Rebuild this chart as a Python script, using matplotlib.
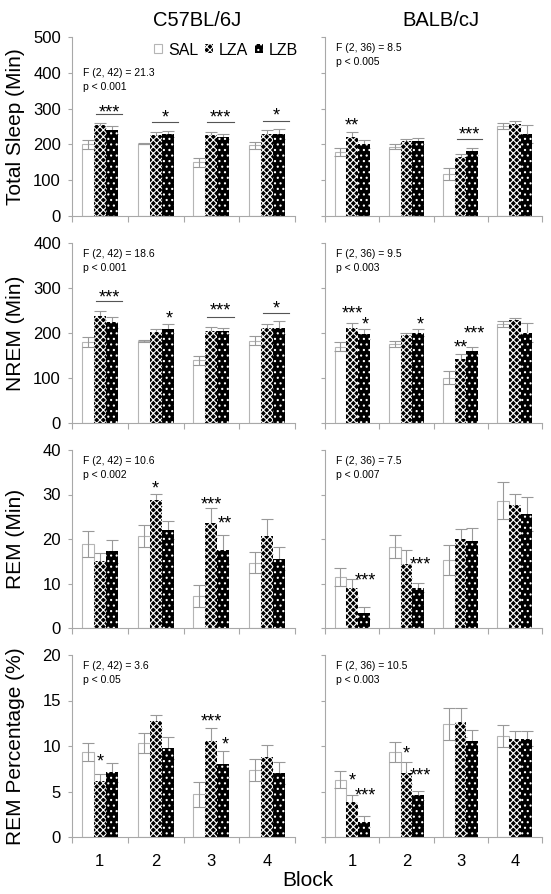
import matplotlib.pyplot as plt
from matplotlib.patches import Patch

plt.rcParams['font.family'] = ['Liberation Sans', 'DejaVu Sans']
plt.rcParams['hatch.linewidth'] = 0.8

# ---- data ----
blocks = [1, 2, 3, 4]
groups = ['SAL', 'LZA', 'LZB']

# each panel: [SAL, LZA, LZB] x 4 blocks
c57_total = [[200, 202, 150, 198], [253, 227, 226, 230], [240, 229, 221, 228]]
c57_total_err = [[12, 2, 12, 10], [8, 8, 10, 10], [12, 8, 7, 14]]
balb_total = [[179, 193, 117, 251], [221, 210, 164, 256], [201, 210, 181, 228]]
balb_total_err = [[12, 7, 16, 9], [14, 5, 10, 8], [12, 8, 10, 25]]

c57_nrem = [[181, 182, 139, 183], [238, 202, 204, 211], [224, 210, 204, 212]]
c57_nrem_err = [[11, 2, 10, 10], [10, 8, 10, 8], [12, 10, 7, 14]]
balb_nrem = [[170, 175, 101, 220], [211, 195, 143, 228], [198, 201, 161, 201]]
balb_nrem_err = [[10, 7, 15, 7], [12, 5, 10, 6], [12, 8, 8, 22]]

c57_rem = [[18.9, 20.6, 7.2, 14.7], [15.0, 28.8, 23.6, 20.6], [17.2, 22.1, 17.6, 15.6]]
c57_rem_err = [[2.9, 2.5, 2.5, 2.4], [1.9, 1.3, 3.4, 3.9], [2.6, 2.0, 3.2, 2.5]]
balb_rem = [[11.5, 18.3, 15.3, 28.6], [9.0, 14.4, 20.0, 27.6], [3.4, 9.1, 19.6, 25.6]]
balb_rem_err = [[2.0, 2.6, 3.4, 4.2], [2.0, 3.1, 2.2, 2.5], [1.3, 1.0, 2.9, 3.9]]

c57_pct = [[9.3, 10.3, 4.7, 7.4], [6.1, 12.7, 10.5, 8.8], [7.1, 9.8, 8.0, 7.0]]
c57_pct_err = [[1.0, 1.1, 1.35, 1.2], [0.85, 0.75, 1.5, 1.3], [1.05, 1.2, 1.4, 1.2]]
balb_pct = [[6.3, 9.3, 12.4, 11.1], [3.9, 7.0, 12.6, 10.8], [1.7, 4.6, 10.6, 10.8]]
balb_pct_err = [[0.9, 1.1, 1.75, 1.2], [0.75, 1.2, 1.6, 0.8], [0.6, 0.5, 1.2, 0.8]]

# significance marks: (block, over, stars, star y, line y)
c57_total_sig = [(1, 'both', '***', 305, 286), (2, 'both', '*', 291, 263),
                 (3, 'both', '***', 291, 263), (4, 'both', '*', 297, 265)]
balb_total_sig = [(1, 'LZA', '**', 268, None), (3, 'both', '***', 244, 214)]
c57_nrem_sig = [(1, 'both', '***', 291, 271), (2, 'LZB', '*', 244, None),
                (3, 'both', '***', 262, 236), (4, 'both', '*', 266, 244)]
balb_nrem_sig = [(1, 'LZA', '***', 255, None), (1, 'LZB', '*', 232, None),
                 (2, 'LZB', '*', 232, None), (3, 'LZA', '**', 179, None),
                 (3, 'LZB', '***', 211, None)]
c57_rem_sig = [(2, 'LZA', '*', 32.6, None), (3, 'LZA', '***', 29.0, None),
               (3, 'LZB', '**', 24.7, None)]
balb_rem_sig = [(1, 'LZB', '***', 11.8, None), (2, 'LZB', '***', 15.5, None)]
c57_pct_sig = [(1, 'LZA', '*', 8.9, None), (3, 'LZA', '***', 13.3, None),
               (3, 'LZB', '*', 10.8, None)]
balb_pct_sig = [(1, 'LZA', '*', 6.8, None), (1, 'LZB', '***', 5.2, None),
                (2, 'LZA', '*', 9.8, None), (2, 'LZB', '***', 7.4, None)]

c57_stats = [('F (2, 42) = 21.3', 'p < 0.001'), ('F (2, 42) = 18.6', 'p < 0.001'),
             ('F (2, 42) = 10.6', 'p < 0.002'), ('F (2, 42) = 3.6', 'p < 0.05')]
balb_stats = [('F (2, 36) = 8.5', 'p < 0.005'), ('F (2, 36) = 9.5', 'p < 0.003'),
              ('F (2, 36) = 7.5', 'p < 0.007'), ('F (2, 36) = 10.5', 'p < 0.003')]

ylabels = ['Total Sleep (Min)', 'NREM (Min)', 'REM (Min)', 'REM Percentage (%)']
ylims = [(500, 100), (400, 100), (40, 10), (20, 5)]
strains = ['C57BL/6J', 'BALB/cJ']

panels = [
    [(c57_total, c57_total_err, c57_total_sig), (balb_total, balb_total_err, balb_total_sig)],
    [(c57_nrem, c57_nrem_err, c57_nrem_sig), (balb_nrem, balb_nrem_err, balb_nrem_sig)],
    [(c57_rem, c57_rem_err, c57_rem_sig), (balb_rem, balb_rem_err, balb_rem_sig)],
    [(c57_pct, c57_pct_err, c57_pct_sig), (balb_pct, balb_pct_err, balb_pct_sig)],
]

# ---- style ----
W, H = 551, 894
rows_px = [(37, 216), (243, 423), (450, 628), (655, 837)]
cols_px = [(72, 295), (325, 542)]
grey = '#a8a8a8'
bw = 0.215
offsets = {'SAL': -bw, 'LZA': 0.0, 'LZB': bw}
bar_style = {
    'SAL': dict(facecolor='white', edgecolor='#b5b5b5', linewidth=0.8),
    'LZA': dict(facecolor='black', edgecolor='white', linewidth=0, hatch='xxxxx'),
    'LZB': dict(facecolor='black', edgecolor='white', linewidth=0, hatch='...'),
}
star_dx = {'LZA': 0.0, 'LZB': 0.25, 'both': 0.165}

fig = plt.figure(figsize=(W / 100, H / 100), dpi=100)

for r, (top, bot) in enumerate(rows_px):
    ymax, ystep = ylims[r]
    for c, (left, right) in enumerate(cols_px):
        ax = fig.add_axes([left / W, 1 - bot / H, (right - left) / W, (bot - top) / H])
        means, errs, sigs = panels[r][c]
        for g, name in enumerate(groups):
            xs = [b + offsets[name] for b in blocks]
            ax.bar(xs, means[g], width=bw, zorder=2, **bar_style[name])
            ax.errorbar(xs, means[g], yerr=errs[g], fmt='none', ecolor='#999999',
                        elinewidth=0.8, capsize=4, capthick=0.8,
                        zorder=3 if name == 'SAL' else 1)
        for b, over, stars, sy, ly in sigs:
            if ly is not None:
                ax.plot([b - 0.07, b + 0.40], [ly, ly], color='#555555', lw=0.8)
            ax.annotate(stars, (b + star_dx[over], sy), xytext=(0, -7.5),
                        textcoords='offset points', ha='center', va='baseline',
                        fontsize=13)

        stats = c57_stats[r] if c == 0 else balb_stats[r]
        fy = 0.80 if (r == 0 and c == 0) else 0.94
        ax.text(0.05, fy, stats[0], transform=ax.transAxes, fontsize=7.5, va='center')
        ax.text(0.05, fy - 0.078, stats[1], transform=ax.transAxes, fontsize=7.5, va='center')

        ax.set_xlim(0.5, 4.5)
        ax.set_ylim(0, ymax)
        ax.set_yticks(range(0, ymax + 1, ystep))
        ax.set_xticks(blocks)
        ax.set_xticks([0.5, 1.5, 2.5, 3.5, 4.5], minor=True)
        for s in ['top', 'right']:
            ax.spines[s].set_visible(False)
        for s in ['left', 'bottom']:
            ax.spines[s].set_color(grey)
            ax.spines[s].set_linewidth(0.8)
        ax.tick_params(axis='y', direction='out', length=3, width=0.8, color=grey,
                       labelsize=12, pad=5, labelleft=(c == 0))
        ax.tick_params(axis='x', which='major', length=0, pad=12, labelsize=12,
                       labelbottom=(r == 3))
        ax.tick_params(axis='x', which='minor', direction='out', length=4,
                       width=0.8, color=grey)
        if c == 0:
            ax.set_ylabel(ylabels[r], fontsize=15)
            ax.yaxis.set_label_coords(-0.21, 0.5)

        if r == 0 and c == 0:
            handles = [Patch(**bar_style[n], label=n) for n in groups]
            ax.legend(handles=handles, loc='center right', bbox_to_anchor=(1.015, 0.927),
                      ncol=3, frameon=False, fontsize=11.5, handlelength=0.5,
                      handleheight=0.5, handletextpad=0.4, columnspacing=0.4,
                      borderaxespad=0, borderpad=0)

fig.text(197 / W, 1 - 20 / H, strains[0], ha='center', va='center', fontsize=14.5)
fig.text(441 / W, 1 - 20 / H, strains[1], ha='center', va='center', fontsize=14.5)
fig.text(308 / W, 1 - 880 / H, 'Block', ha='center', va='center', fontsize=15)

fig.savefig('out.png', dpi=100)
